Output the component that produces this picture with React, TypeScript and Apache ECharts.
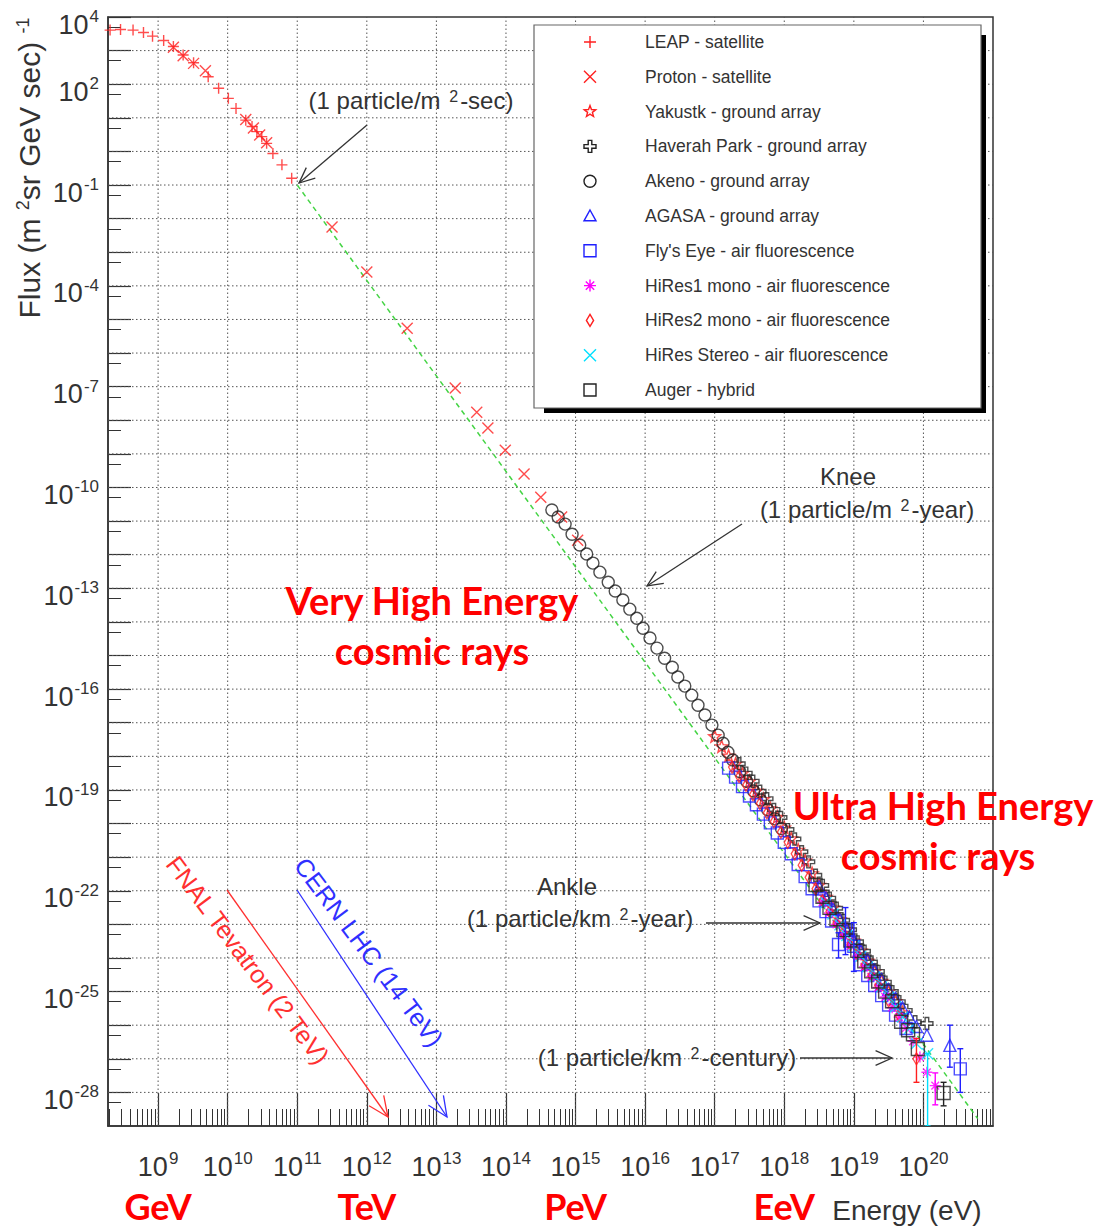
import React, { useEffect, useRef } from "react";
import * as echarts from "echarts";

// All values are decade exponents: [log10(E / eV), log10(flux)]
const X_MIN = 8.28;
const X_MAX = 21;
const Y_MIN = -29;
const Y_MAX = 4;

const xTickDecades = [9, 10, 11, 12, 13, 14, 15, 16, 17, 18, 19, 20];
const yLabelDecades = [4, 2, -1, -4, -7, -10, -13, -16, -19, -22, -25, -28];
const yGridDecades = [3, 2, 1, 0, -1, -2, -3, -4, -5, -6, -7, -8, -9, -10, -11, -12, -13, -14, -15, -16, -17, -18, -19, -20, -21, -22, -23, -24, -25, -26, -27, -28];
const unitLabels = ["GeV", "TeV", "PeV", "EeV"];
const unitDecades = [9, 12, 15, 18];

const leap = [[8.31, 3.61], [8.46, 3.63], [8.64, 3.61], [8.79, 3.54], [8.92, 3.43], [9.08, 3.3], [9.22, 3.12], [9.36, 2.87], [9.51, 2.64], [9.72, 2.22], [9.87, 1.88], [10.01, 1.58], [10.12, 1.28], [10.26, 0.93], [10.35, 0.74], [10.42, 0.59], [10.49, 0.44], [10.56, 0.24], [10.65, -0.06], [10.78, -0.4], [10.92, -0.8]];
const proton = [[9.22, 3.1], [9.36, 2.85], [9.51, 2.62], [9.68, 2.4], [10.26, 0.95], [10.37, 0.7], [10.46, 0.49], [10.56, 0.26], [11.5, -2.25], [12.0, -3.59], [12.58, -5.26], [13.27, -7.04], [13.58, -7.76], [13.74, -8.23], [13.99, -8.89], [14.26, -9.6], [14.5, -10.29], [14.8, -10.88], [15.03, -11.57]];
const yakutsk = [[17.0, -17.4], [17.1, -17.7], [17.2, -17.98], [17.3, -18.22], [17.4, -18.5], [17.5, -18.74], [17.6, -19.02], [17.7, -19.27], [17.8, -19.55], [17.9, -19.8], [18.0, -20.12], [18.1, -20.44], [18.2, -20.78], [18.3, -21.1], [18.4, -21.48], [18.5, -21.82], [18.6, -22.18], [18.7, -22.5], [18.8, -22.85], [18.9, -23.14], [19.0, -23.48], [19.1, -23.78], [19.2, -24.08], [19.3, -24.4], [19.4, -24.68], [19.5, -25.0], [19.6, -25.28], [19.7, -25.62]];
const haverah = [[17.35, -18.22], [17.45, -18.5], [17.55, -18.74], [17.65, -19.04], [17.75, -19.26], [17.85, -19.58], [17.95, -19.82], [18.05, -20.18], [18.15, -20.46], [18.25, -20.84], [18.35, -21.14], [18.45, -21.54], [18.55, -21.84], [18.65, -22.22], [18.75, -22.52], [18.85, -22.88], [18.95, -23.16], [19.05, -23.52], [19.15, -23.8], [19.25, -24.12], [19.35, -24.4], [19.45, -24.72], [19.55, -25.0], [19.65, -25.3], [19.75, -25.56], [19.88, -25.9], [20.05, -25.95]];
const akeno = [[14.66, -10.67], [14.75, -10.88], [14.85, -11.09], [14.95, -11.39], [15.06, -11.71], [15.16, -11.98], [15.25, -12.25], [15.35, -12.52], [15.47, -12.82], [15.57, -13.08], [15.68, -13.35], [15.78, -13.62], [15.88, -13.89], [15.97, -14.19], [16.07, -14.48], [16.17, -14.78], [16.28, -15.08], [16.39, -15.35], [16.47, -15.64], [16.57, -15.91], [16.67, -16.18], [16.76, -16.48], [16.86, -16.77], [16.96, -17.07], [17.05, -17.37], [17.12, -17.61], [17.19, -17.88], [17.26, -18.11], [17.36, -18.45], [17.46, -18.74], [17.56, -19.03], [17.66, -19.3], [17.76, -19.58], [17.86, -19.86], [17.96, -20.15]];
const agasa = [[18.5, -21.88], [18.6, -22.22], [18.7, -22.55], [18.8, -22.86], [18.9, -23.18], [19.0, -23.46], [19.1, -23.78], [19.2, -24.06], [19.3, -24.36], [19.4, -24.64], [19.5, -24.94], [19.6, -25.2], [19.7, -25.48], [19.8, -25.76], [19.9, -26.04], [20.05, -26.3], [20.38, -26.6]];
const flysEye = [[17.2, -18.35], [17.3, -18.62], [17.4, -18.9], [17.5, -19.18], [17.6, -19.44], [17.7, -19.72], [17.8, -19.98], [17.9, -20.28], [18.0, -20.56], [18.1, -20.9], [18.2, -21.22], [18.3, -21.58], [18.4, -21.94], [18.5, -22.3], [18.6, -22.62], [18.68, -22.9], [18.78, -23.6], [18.88, -23.15], [19.0, -23.65], [19.1, -24.2], [19.2, -24.52], [19.3, -24.82], [19.4, -25.12], [19.5, -25.4], [19.6, -25.7], [19.75, -26.1], [20.53, -27.3]];
const hires1 = [[18.55, -22.34], [18.65, -22.66], [18.75, -23.0], [18.85, -23.32], [18.95, -23.64], [19.05, -23.95], [19.15, -24.27], [19.25, -24.56], [19.35, -24.88], [19.45, -25.16], [19.55, -25.48], [19.65, -25.76], [19.75, -26.08], [19.85, -26.48], [19.95, -26.95], [20.05, -27.4], [20.17, -27.8]];
const hires2 = [[17.25, -18.32], [17.35, -18.6], [17.45, -18.86], [17.55, -19.14], [17.65, -19.4], [17.75, -19.68], [17.85, -19.94], [17.95, -20.26], [18.05, -20.56], [18.15, -20.9], [18.25, -21.24], [18.35, -21.6], [18.45, -21.94], [18.55, -22.3], [18.65, -22.62], [18.75, -22.96], [18.85, -23.26], [18.95, -23.6], [19.05, -23.9], [19.15, -24.22], [19.25, -24.52], [19.35, -24.82], [19.5, -25.28], [19.65, -25.72], [19.9, -27.0]];
const hiresStereo = [[18.6, -22.36], [18.7, -22.69], [18.8, -23.01], [18.9, -23.33], [19.0, -23.64], [19.1, -23.95], [19.2, -24.26], [19.3, -24.56], [19.4, -24.86], [19.5, -25.16], [19.6, -25.45], [19.7, -25.76], [19.8, -26.1], [19.9, -26.55], [20.06, -26.85]];
const auger = [[18.45, -21.83], [18.55, -22.18], [18.65, -22.51], [18.75, -22.85], [18.85, -23.17], [18.95, -23.48], [19.05, -23.79], [19.15, -24.1], [19.25, -24.4], [19.35, -24.7], [19.45, -25.0], [19.55, -25.29], [19.68, -25.9], [19.78, -26.15], [19.85, -26.27], [19.92, -26.71], [20.29, -28.02]];

// error bars: [log10 E, upper, lower]
const flysEyeErr = [[18.78, -23.25, -24.0], [18.88, -22.5, -23.9], [19.0, -22.95, -24.4], [20.53, -26.7, -28.0]];
const agasaErr = [[20.38, -26.0, -27.25]];
const hires1Err = [[20.17, -27.42, -28.37]];
const hires2Err = [[19.9, -26.4, -27.7]];
const stereoErr = [[20.06, -26.85, -29]];
const augerErr = [[20.29, -27.7, -28.4]];

// reference power-law line endpoints
const refLine = [[11, -1], [20.78, -28.78]];

const GRID = { left: 108, top: 17, width: 885, height: 1109 };
const FONT = "'Liberation Sans', Arial, sans-serif";
const BOLD_FONT = "Lato, 'Open Sans', sans-serif";
const TXT = "#333";

const SYM: Record<string, string> = {
  plus: "M5,0L5,10M0,5L10,5",
  cross: "M0,0L10,10M10,0L0,10",
  star: "M5,0L6.23,3.3L9.76,3.46L7,5.65L7.94,9.05L5,7.1L2.06,9.05L3,5.65L0.24,3.46L3.77,3.3Z",
  ocross: "M3.5,0L6.5,0L6.5,3.5L10,3.5L10,6.5L6.5,6.5L6.5,10L3.5,10L3.5,6.5L0,6.5L0,3.5L3.5,3.5Z",
  circle: "M10,5A5,5,0,1,1,0,5A5,5,0,1,1,10,5Z",
  tri: "M5,0L10,9L0,9Z",
  square: "M0,0L10,0L10,10L0,10Z",
  aster: "M5,0L5,10M0,5L10,5M1.5,1.5L8.5,8.5M8.5,1.5L1.5,8.5",
  diamond: "M5,0L8,5L5,10L2,5Z",
};

const RED = "#ff1f1f";
const BLACK = "#222";
const BLUE = "#2020ff";
const MAGENTA = "#ff00ff";
const CYAN = "#00e0ff";

const seriesDefs = [
  { name: "LEAP - satellite", data: leap, sym: "plus", color: RED, size: 11 },
  { name: "Proton - satellite", data: proton, sym: "cross", color: RED, size: 11 },
  { name: "Yakustk - ground array", data: yakutsk, sym: "star", color: RED, size: 12 },
  { name: "Haverah Park - ground array", data: haverah, sym: "ocross", color: BLACK, size: 12 },
  { name: "Akeno - ground array", data: akeno, sym: "circle", color: BLACK, size: 12 },
  { name: "AGASA - ground array", data: agasa, sym: "tri", color: BLUE, size: 12 },
  { name: "Fly's Eye - air fluorescence", data: flysEye, sym: "square", color: BLUE, size: 12 },
  { name: "HiRes1 mono - air fluorescence", data: hires1, sym: "aster", color: MAGENTA, size: 11 },
  { name: "HiRes2 mono - air fluorescence", data: hires2, sym: "diamond", color: RED, size: 12 },
  { name: "HiRes Stereo - air fluorescence", data: hiresStereo, sym: "cross", color: CYAN, size: 11 },
  { name: "Auger - hybrid", data: auger, sym: "square", color: BLACK, size: 13 },
];

const errDefs = [
  { data: flysEyeErr, color: BLUE },
  { data: agasaErr, color: BLUE },
  { data: hires1Err, color: MAGENTA },
  { data: hires2Err, color: RED },
  { data: stereoErr, color: CYAN },
  { data: augerErr, color: BLACK },
];

Object.keys(SYM).forEach((k) => {
  echarts.graphic.registerShape("sym_" + k, echarts.graphic.extendPath(SYM[k], {}));
});

const px = (d: number) => GRID.left + ((d - X_MIN) * GRID.width) / (X_MAX - X_MIN);

function arrow(x1: number, y1: number, x2: number, y2: number, color: string, lw: number, head: number) {
  const a = Math.atan2(y2 - y1, x2 - x1);
  const sp = 0.42;
  const w1 = [x2 - head * Math.cos(a - sp), y2 - head * Math.sin(a - sp)];
  const w2 = [x2 - head * Math.cos(a + sp), y2 - head * Math.sin(a + sp)];
  return [
    { type: "polyline", z: 120, shape: { points: [[x1, y1], [x2, y2]] }, style: { stroke: color, lineWidth: lw, fill: null } },
    { type: "polyline", z: 120, shape: { points: [w1, [x2, y2], w2] }, style: { stroke: color, lineWidth: lw, fill: null } },
  ];
}

function supText(x: number, y: number, text: string, size: number, color: string) {
  return {
    type: "text",
    z: 120,
    x,
    y,
    style: {
      text,
      fill: color,
      fontSize: size,
      fontFamily: FONT,
      align: "center",
      verticalAlign: "middle",
      rich: { s: { fontSize: Math.round(size * 0.68), verticalAlign: "top", fill: color, fontFamily: FONT, padding: [0, 2, 0, 2] } },
    },
  };
}

function boldText(x: number, y: number, text: string, size: number) {
  return {
    type: "text",
    z: 120,
    x,
    y,
    style: { text, fill: "#ff0000", fontSize: size, lineHeight: size, fontWeight: "bold", fontFamily: BOLD_FONT, align: "center", verticalAlign: "middle" },
  };
}

function buildOption() {
  const xMinor: number[] = [];
  for (let d = 8; d <= 20; d++) {
    for (let m = 2; m <= 9; m++) {
      const v = d + Math.log10(m);
      if (v > X_MIN && v < X_MAX) xMinor.push(v);
    }
  }
  const yMinor: number[] = [];
  for (let k = Y_MIN; k < Y_MAX; k++) yMinor.push(k + Math.log10(5));

  const labelRich = {
    b: { fontSize: 27, fontFamily: FONT, color: TXT, lineHeight: 30, verticalAlign: "bottom" },
    s: { fontSize: 17, fontFamily: FONT, color: TXT, lineHeight: 18, verticalAlign: "top", padding: [0, 0, 0, 1] },
  };
  const supFmt = (v: number) => "{b|10}{s|" + Math.round(v) + "}";

  const axisLineStyle = { color: "#333", width: 1.5 };

  const series: any[] = [];
  series.push({
    type: "custom",
    name: "gridx",
    z: 1,
    silent: true,
    data: xTickDecades.map((d) => [d, 0]),
    renderItem: (params: any, api: any) => {
      const p1 = api.coord([api.value(0), Y_MIN]);
      const p2 = api.coord([api.value(0), Y_MAX]);
      return { type: "line", shape: { x1: p1[0], y1: p1[1], x2: p2[0], y2: p2[1] }, style: { stroke: "#555", lineWidth: 1, lineDash: [1.5, 2.5] } };
    },
  });
  series.push({
    type: "custom",
    name: "gridy",
    z: 1,
    silent: true,
    data: yGridDecades.map((d) => [X_MIN, d]),
    renderItem: (params: any, api: any) => {
      const p1 = api.coord([X_MIN, api.value(1)]);
      const p2 = api.coord([X_MAX, api.value(1)]);
      return { type: "line", shape: { x1: p1[0], y1: p1[1], x2: p2[0], y2: p2[1] }, style: { stroke: "#555", lineWidth: 1, lineDash: [1.5, 2.5] } };
    },
  });
  series.push({
    type: "line",
    name: "reference",
    z: 2,
    silent: true,
    data: refLine,
    showSymbol: false,
    symbol: "none",
    lineStyle: { color: "#44d444", width: 1.5, type: [5, 4] },
  });
  seriesDefs.forEach((s, i) => {
    series.push({
      type: "scatter",
      name: s.name,
      z: 3 + i * 0.01,
      silent: true,
      data: s.data,
      symbol: "path://" + SYM[s.sym],
      symbolSize: s.sym === "diamond" ? [7, s.size] : s.size,
      itemStyle: { color: "rgba(0,0,0,0)", borderColor: s.color, borderWidth: 1.4 },
    });
  });
  errDefs.forEach((e, i) => {
    series.push({
      type: "custom",
      name: "err" + i,
      z: 4,
      silent: true,
      clip: true,
      data: e.data,
      encode: { x: 0, y: [1, 2] },
      renderItem: (params: any, api: any) => {
        const x = api.value(0);
        const p1 = api.coord([x, api.value(1)]);
        const p2 = api.coord([x, Math.max(api.value(2), Y_MIN)]);
        const st = { stroke: e.color, lineWidth: 1.4 };
        return {
          type: "group",
          children: [
            { type: "line", shape: { x1: p1[0], y1: p1[1], x2: p2[0], y2: p2[1] }, style: st },
            { type: "line", shape: { x1: p1[0] - 3, y1: p1[1], x2: p1[0] + 3, y2: p1[1] }, style: st },
            { type: "line", shape: { x1: p2[0] - 3, y1: p2[1], x2: p2[0] + 3, y2: p2[1] }, style: st },
          ],
        };
      },
    });
  });

  const g: any[] = [];
  g.push({
    type: "text",
    z: 120,
    x: 29,
    y: 168,
    rotation: Math.PI / 2,
    style: {
      text: "Flux (m {s|2}sr GeV sec) {s|-1}",
      fill: TXT,
      fontSize: 30,
      fontFamily: FONT,
      align: "center",
      verticalAlign: "middle",
      rich: { s: { fontSize: 18, verticalAlign: "top", fill: TXT, fontFamily: FONT } },
    },
  });
  g.push({
    type: "text",
    z: 120,
    x: 907,
    y: 1210,
    style: { text: "Energy (eV)", fill: TXT, fontSize: 28, fontFamily: FONT, align: "center", verticalAlign: "middle" },
  });
  unitLabels.forEach((u, i) => g.push(boldText(px(unitDecades[i]), 1206, u, 36)));

  g.push(boldText(432, 600, "Very High Energy", 38));
  g.push(boldText(432, 650, "cosmic rays", 38));
  g.push(boldText(943, 805, "Ultra High Energy", 38));
  g.push(boldText(938, 855, "cosmic rays", 38));

  g.push(supText(411, 100, "(1 particle/m {s|2}-sec)", 24, TXT));
  g.push(...arrow(367, 125, 299, 183, "#333", 1.3, 17));
  g.push(supText(848, 476, "Knee", 24, TXT));
  g.push(supText(867, 509, "(1 particle/m {s|2}-year)", 24, TXT));
  g.push(...arrow(742, 524, 647, 586, "#333", 1.3, 17));
  g.push(supText(567, 886, "Ankle", 24, TXT));
  g.push(supText(580, 918, "(1 particle/km {s|2}-year)", 24, TXT));
  g.push(...arrow(706, 923, 820, 923, "#333", 1.3, 18));
  g.push(supText(667, 1057, "(1 particle/km {s|2}-century)", 24, TXT));
  g.push(...arrow(800, 1058, 892, 1058, "#333", 1.3, 18));

  g.push(...arrow(227, 890, 388, 1117, "#ff3030", 1.3, 22));
  g.push(...arrow(297, 890, 447, 1117, "#3030ff", 1.3, 22));
  g.push({
    type: "text",
    z: 120,
    x: 248,
    y: 960,
    rotation: (-53 * Math.PI) / 180,
    style: { text: "FNAL Tevatron (2 TeV)", fill: "#ff3030", fontSize: 25, fontFamily: FONT, align: "center", verticalAlign: "middle" },
  });
  g.push({
    type: "text",
    z: 120,
    x: 369,
    y: 952,
    rotation: (-53 * Math.PI) / 180,
    style: { text: "CERN LHC (14 TeV)", fill: "#3030ff", fontSize: 25, fontFamily: FONT, align: "center", verticalAlign: "middle" },
  });

  g.push({ type: "rect", z: 130, shape: { x: 544, y: 35, width: 442, height: 378 }, style: { fill: "#000" } });
  g.push({ type: "rect", z: 131, shape: { x: 534, y: 25, width: 447, height: 383 }, style: { fill: "#fff", stroke: "#666", lineWidth: 1.2 } });
  seriesDefs.forEach((s, i) => {
    const cy = 42 + i * 34.8;
    g.push({
      type: "sym_" + s.sym,
      z: 132,
      x: 590 - 6,
      y: cy - 6,
      scaleX: 1.2,
      scaleY: 1.2,
      style: { stroke: s.color, fill: "none", lineWidth: 1.4, strokeNoScale: true },
    });
    g.push({
      type: "text",
      z: 132,
      x: 645,
      y: cy,
      style: { text: s.name, fill: TXT, fontSize: 17.5, fontFamily: FONT, align: "left", verticalAlign: "middle" },
    });
  });

  return {
    animation: false,
    backgroundColor: "#fff",
    grid: { ...GRID, show: true, borderColor: "#333", borderWidth: 1.5, backgroundColor: "transparent", containLabel: false },
    xAxis: [
      {
        type: "value",
        min: X_MIN,
        max: X_MAX,
        position: "bottom",
        axisLine: { show: true, onZero: false, lineStyle: axisLineStyle },
        axisTick: { show: true, inside: true, length: 33, customValues: xTickDecades, lineStyle: { color: "#333", width: 1.2 } },
        axisLabel: { show: true, customValues: xTickDecades, formatter: supFmt, margin: 24, rich: labelRich },
        splitLine: { show: false },
      },
      {
        type: "value",
        min: X_MIN,
        max: X_MAX,
        position: "bottom",
        axisLine: { show: false, onZero: false },
        axisTick: { show: true, inside: true, length: 17, customValues: xMinor, lineStyle: { color: "#333", width: 1 } },
        axisLabel: { show: false },
        splitLine: { show: false },
      },
    ],
    yAxis: [
      {
        type: "value",
        min: Y_MIN,
        max: Y_MAX,
        position: "left",
        axisLine: { show: true, onZero: false, lineStyle: axisLineStyle },
        axisTick: { show: true, inside: true, length: 23, customValues: yGridDecades.concat([4]), lineStyle: { color: "#333", width: 1.2 } },
        axisLabel: { show: true, customValues: yLabelDecades, formatter: supFmt, margin: 9, rich: labelRich, padding: [12, 0, 0, 0] },
        splitLine: { show: false },
      },
      {
        type: "value",
        min: Y_MIN,
        max: Y_MAX,
        position: "left",
        axisLine: { show: false, onZero: false },
        axisTick: { show: true, inside: true, length: 13, customValues: yMinor, lineStyle: { color: "#333", width: 1 } },
        axisLabel: { show: false },
        splitLine: { show: false },
      },
    ],
    series,
    graphic: { elements: g },
  };
}

export default function App() {
  const ref = useRef<HTMLDivElement>(null);
  useEffect(() => {
    if (!ref.current) return;
    const chart = echarts.init(ref.current, undefined, { renderer: "svg" });
    chart.setOption(buildOption() as any);
    return () => {
      chart.dispose();
    };
  }, []);
  return (
    <div
      ref={ref}
      style={{ position: "fixed", left: 0, top: 0, width: 1102, height: 1228, background: "#fff" }}
    />
  );
}
